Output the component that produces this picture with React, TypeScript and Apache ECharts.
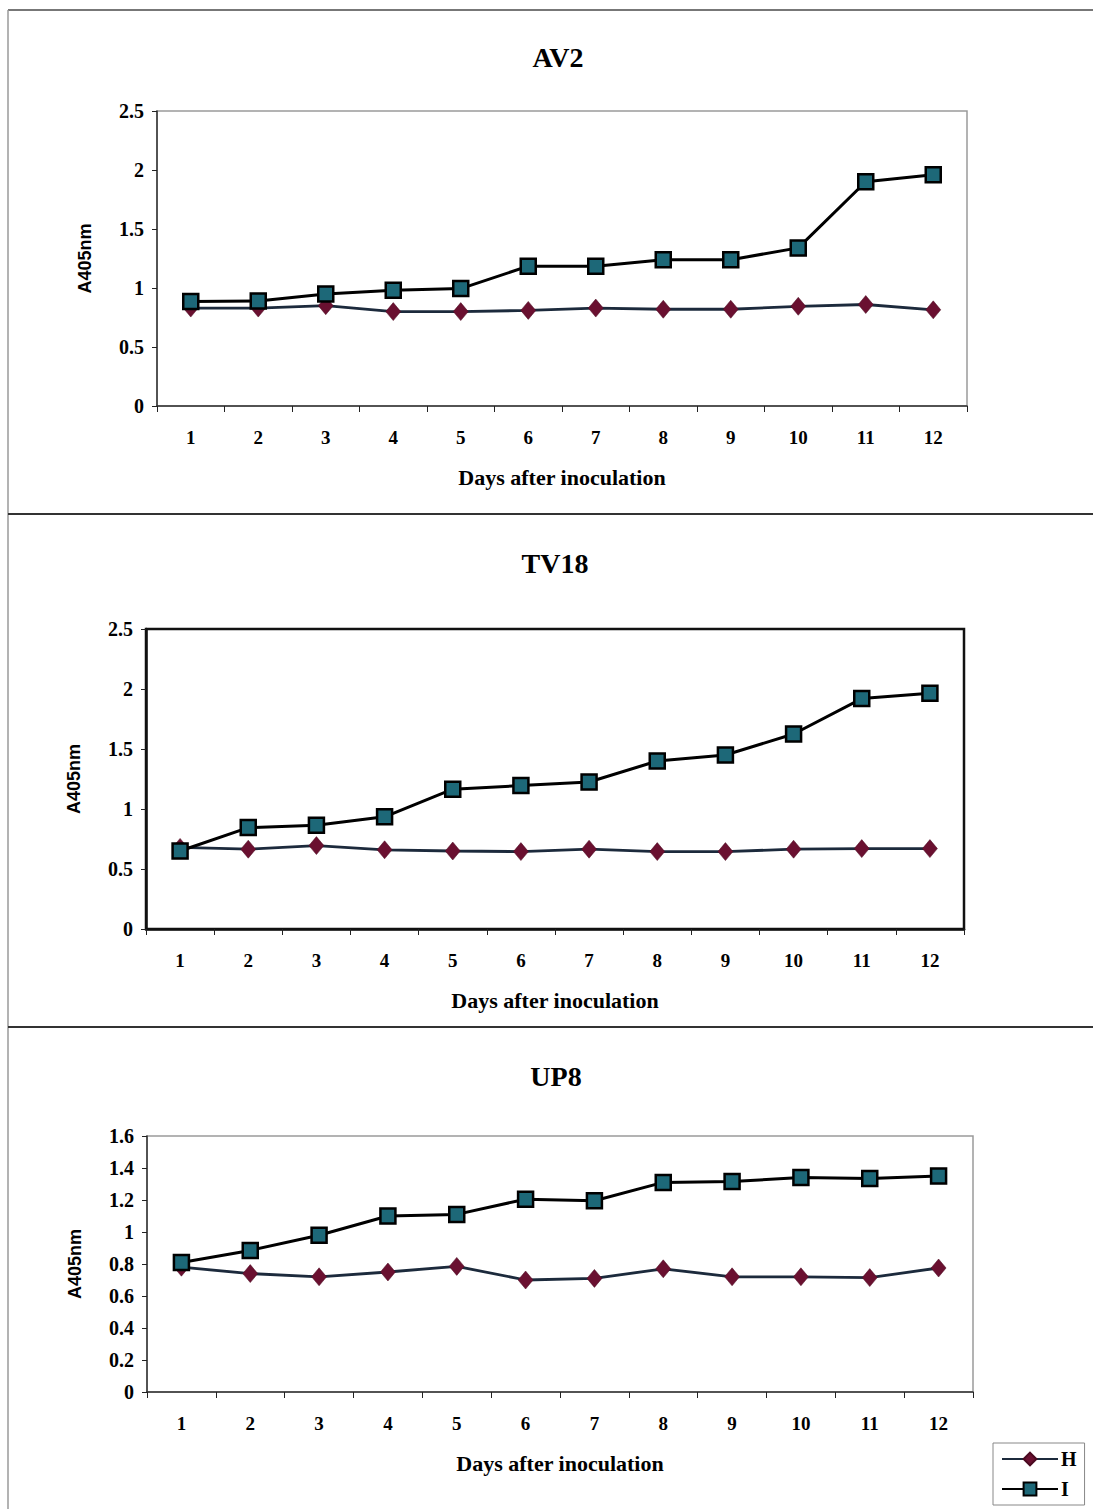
import React, { useEffect, useRef } from "react";
import * as echarts from "echarts";

// Days after inoculation
const days = ["1", "2", "3", "4", "5", "6", "7", "8", "9", "10", "11", "12"];

// AV2 absorbance readings
const av2H = [0.83, 0.83, 0.85, 0.8, 0.8, 0.81, 0.83, 0.82, 0.82, 0.845, 0.86, 0.815];
const av2I = [0.885, 0.89, 0.95, 0.98, 0.995, 1.185, 1.185, 1.24, 1.24, 1.34, 1.9, 1.96];

// TV18 absorbance readings
const tv18H = [0.68, 0.665, 0.695, 0.66, 0.65, 0.645, 0.665, 0.645, 0.645, 0.665, 0.67, 0.67];
const tv18I = [0.65, 0.845, 0.865, 0.935, 1.165, 1.195, 1.225, 1.4, 1.45, 1.625, 1.92, 1.965];

// UP8 absorbance readings
const up8H = [0.78, 0.74, 0.72, 0.75, 0.785, 0.7, 0.71, 0.77, 0.72, 0.72, 0.715, 0.775];
const up8I = [0.81, 0.885, 0.98, 1.1, 1.11, 1.205, 1.195, 1.31, 1.315, 1.34, 1.335, 1.35];

const panelTitles = ["AV2", "TV18", "UP8"];
const yMax = [2.5, 2.5, 1.6];
const yStep = [0.5, 0.5, 0.2];
const hSeries = [av2H, tv18H, up8H];
const iSeries = [av2I, tv18I, up8I];

const SERIF = "'Liberation Serif', 'Times New Roman', serif";
const SANS = "'Liberation Sans', Arial, sans-serif";

// Layout of each panel: plot rectangle, title anchor and frame styling
const layout = [
  { left: 157, top: 111, width: 810, height: 295, titleX: 553, titleTop: 38, frame: "#9a9a9a", frameW: 1.5, axis: "#333", axisW: 1.5 },
  { left: 146, top: 629, width: 818, height: 300, titleX: 550, titleTop: 544, frame: "#111", frameW: 2.5, axis: "#111", axisW: 2.5 },
  { left: 147, top: 1136, width: 826, height: 256, titleX: 551, titleTop: 1057, frame: "#9a9a9a", frameW: 1.5, axis: "#333", axisW: 1.5 },
];

export default function App() {
  const ref = useRef<HTMLDivElement>(null);

  useEffect(() => {
    if (!ref.current) return;
    const chart = echarts.init(ref.current, null, { renderer: "svg" });

    const grids = layout.map((l) => ({
      left: l.left,
      top: l.top,
      width: l.width,
      height: l.height,
      show: true,
      borderColor: l.frame,
      borderWidth: l.frameW,
      backgroundColor: "transparent",
    }));

    const xAxes = layout.map((l, i) => ({
      type: "category",
      gridIndex: i,
      data: days,
      boundaryGap: true,
      name: "Days after inoculation",
      nameLocation: "middle",
      nameGap: 60,
      nameTextStyle: { fontFamily: SERIF, fontWeight: "bold", fontSize: 22, color: "#000" },
      axisLine: { lineStyle: { color: l.axis, width: l.axisW } },
      axisTick: { show: true, length: 6, lineStyle: { color: "#222", width: 1 } },
      axisLabel: { margin: 22, fontFamily: SERIF, fontWeight: "bold", fontSize: 19, color: "#000" },
      splitLine: { show: false },
    }));

    const yAxes = layout.map((l, i) => ({
      type: "value",
      gridIndex: i,
      min: 0,
      max: yMax[i],
      interval: yStep[i],
      name: "A405nm",
      nameLocation: "middle",
      nameGap: 63,
      nameRotate: 90,
      nameTextStyle: { fontFamily: SANS, fontWeight: "bold", fontSize: 18, color: "#000" },
      axisLine: { show: true, lineStyle: { color: l.axis, width: l.axisW } },
      axisTick: { show: true, length: 5, lineStyle: { color: "#222", width: 1 } },
      axisLabel: { margin: 13, fontFamily: SERIF, fontWeight: "bold", fontSize: 20, color: "#000" },
      splitLine: { show: false },
    }));

    const series: any[] = [];
    layout.forEach((_, i) => {
      series.push({
        name: "H",
        type: "line",
        xAxisIndex: i,
        yAxisIndex: i,
        data: hSeries[i],
        symbol: "diamond",
        symbolSize: [15, 18],
        lineStyle: { color: "#1c2a3c", width: 2.8 },
        itemStyle: { color: "#6a1030", borderColor: "#4a0a20", borderWidth: 0.5 },
        z: 2,
      });
      series.push({
        name: "I",
        type: "line",
        xAxisIndex: i,
        yAxisIndex: i,
        data: iSeries[i],
        symbol: "rect",
        symbolSize: 15,
        lineStyle: { color: "#000", width: 3 },
        itemStyle: { color: "#1d6878", borderColor: "#000", borderWidth: 2.5 },
        z: 3,
      });
    });

    const titles = layout.map((l, i) => ({
      text: panelTitles[i],
      left: l.titleX,
      top: l.titleTop,
      textAlign: "center",
      textStyle: { fontFamily: SERIF, fontWeight: "bold", fontSize: 28, color: "#000" },
    }));

    // Panel frames
    const frameLine = (x1: number, y1: number, x2: number, y2: number, color: string, w: number) => ({
      type: "line",
      shape: { x1, y1, x2, y2 },
      style: { stroke: color, lineWidth: w },
      silent: true,
    });

    chart.setOption({
      animation: false,
      backgroundColor: "#fff",
      title: titles,
      grid: grids,
      xAxis: xAxes,
      yAxis: yAxes,
      series,
      legend: {
        data: ["H", "I"],
        orient: "vertical",
        left: 993,
        top: 1443,
        itemWidth: 56,
        itemHeight: 16,
        itemGap: 10,
        padding: [6, 8, 6, 8],
        borderColor: "#888",
        borderWidth: 1,
        backgroundColor: "#fff",
        textStyle: { fontFamily: SERIF, fontWeight: "bold", fontSize: 20, color: "#000", padding: [0, 0, 0, -2] },
      },
      graphic: [
        frameLine(8, 10, 1093, 10, "#777", 2),
        frameLine(8, 10, 8, 1509, "#9a9a9a", 1.5),
        frameLine(8, 514, 1093, 514, "#333", 2),
        frameLine(8, 1027, 1093, 1027, "#333", 2),
      ],
    });

    return () => chart.dispose();
  }, []);

  return (
    <div
      ref={ref}
      style={{ position: "absolute", left: 0, top: 0, width: 1093, height: 1509, background: "#fff" }}
    />
  );
}
